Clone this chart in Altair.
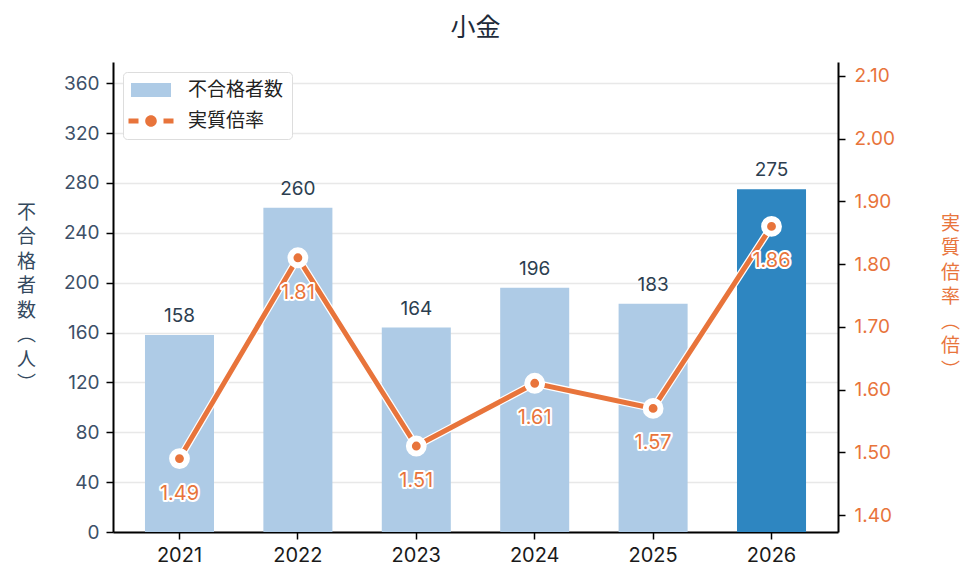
import pandas as pd
import altair as alt

# data
years = ['2021', '2022', '2023', '2024', '2025', '2026']
failures = [158, 260, 164, 196, 183, 275]
ratios = [1.49, 1.81, 1.51, 1.61, 1.57, 1.86]
series = ['不合格者数', '実質倍率']
left_ticks = [0, 40, 80, 120, 160, 200, 240, 280, 320, 360]
right_ticks = [1.40, 1.50, 1.60, 1.70, 1.80, 1.90, 2.00, 2.10]

df = pd.DataFrame({'year': years, 'failures': failures, 'ratio': ratios})
legend_df = pd.DataFrame({'series': series})

LIGHT = '#aecbe6'
DARK = '#2e86c1'
ORANGE = '#e8743b'
NUM_FONT = "Inter, 'Noto Sans CJK JP', sans-serif"
JP_FONT = "'Noto Sans CJK JP', sans-serif"

# legend symbols as custom paths (bar box / dashed line with dot)
RECT = 'M-2,-0.7H2V0.7H-2Z'
DOTLINE = ('M-2.25,-0.25H-1.25V0.25H-2.25Z M1.25,-0.25H2.25V0.25H1.25Z '
           'M0.58,0A0.58,0.58,0,1,1,-0.58,0A0.58,0.58,0,1,1,0.58,0Z')

base = alt.Chart(df).encode(
    x=alt.X('year:N', title=None,
            scale=alt.Scale(paddingInner=0.417, paddingOuter=0.27),
            axis=alt.Axis(labelAngle=0, labelFont=NUM_FONT, labelFontSize=20,
                          labelColor='#1a1a1a', labelPadding=6, tickSize=7,
                          tickColor='black', tickWidth=1.5, domainColor='black',
                          domainWidth=2, grid=False))
)

left_axis = alt.Axis(
    values=left_ticks, title=list('不合格者数︵人︶'), titleAngle=0,
    titleAlign='center', titleBaseline='top', titleX=-87, titleY=141,
    titleLineHeight=24.5, titleFont=JP_FONT, titleFontSize=19,
    titleFontWeight='normal', titleColor='#34495e',
    labelFont=NUM_FONT, labelFontSize=19, labelColor='#3d5068', labelPadding=7,
    tickSize=7, tickColor='black', tickWidth=1.5, domainColor='black',
    domainWidth=2, grid=True, gridColor='#e8e8e8', gridWidth=1.5)

right_axis = alt.Axis(
    orient='right', values=right_ticks, format='.2f', title=list('実質倍率︵倍︶'),
    titleAngle=0, titleAlign='center', titleBaseline='top', titleX=112, titleY=152,
    titleLineHeight=24.5, titleFont=JP_FONT, titleFontSize=19,
    titleFontWeight='normal', titleColor=ORANGE,
    labelFont=NUM_FONT, labelFontSize=19, labelColor=ORANGE, labelPadding=9,
    tickSize=7, tickColor='black', tickWidth=1.5, domainColor='black',
    domainWidth=2, grid=False)

bars = base.mark_bar().encode(
    y=alt.Y('failures:Q', scale=alt.Scale(domain=[0, 377], nice=False), axis=left_axis),
    color=alt.condition(alt.datum.year == '2026', alt.value(DARK), alt.value(LIGHT)),
)
bar_text = base.mark_text(baseline='alphabetic', dy=-13, fontSize=19,
                          font=NUM_FONT, color='#2c3e50').encode(
    y='failures:Q', text='failures:Q')

left = alt.layer(bars, bar_text)

y_r = alt.Y('ratio:Q', scale=alt.Scale(domain=[1.373, 2.122], nice=False, zero=False),
            axis=right_axis)
line_halo = base.mark_line(color='white', strokeWidth=7.5).encode(y=y_r)
line = base.mark_line(color=ORANGE, strokeWidth=5).encode(y='ratio:Q')
pts = base.mark_point(filled=True, fill=ORANGE, stroke='white', strokeWidth=6,
                      size=220, opacity=1).encode(y='ratio:Q')
lab_halo = base.mark_text(dy=35, fontSize=20, font=NUM_FONT, color='white',
                          stroke='white', strokeWidth=4, strokeJoin='round').encode(
    y='ratio:Q', text=alt.Text('ratio:Q', format='.2f'))
lab = base.mark_text(dy=35, fontSize=20, font=NUM_FONT, color=ORANGE).encode(
    y='ratio:Q', text=alt.Text('ratio:Q', format='.2f'))

right = alt.layer(line_halo, line, pts, lab_halo, lab)

leg = alt.Legend(title=None, orient='top-left', offset=10, padding=8,
                 symbolOffset=10, labelOffset=27, rowPadding=11, symbolSize=400,
                 symbolOpacity=1, symbolStrokeWidth=0, labelFont=JP_FONT,
                 labelFontSize=19, labelColor='#222222', strokeColor='#dddddd',
                 fillColor='white', cornerRadius=4)
legend_layer = alt.Chart(legend_df).mark_point(filled=True, opacity=0, size=400).encode(
    color=alt.Color('series:N', scale=alt.Scale(domain=series, range=[LIGHT, ORANGE]),
                    legend=leg),
    shape=alt.Shape('series:N', scale=alt.Scale(domain=series, range=[RECT, DOTLINE]),
                    legend=leg),
)

chart = alt.layer(left, right, legend_layer).resolve_scale(
    y='independent'
).properties(
    width=725, height=470,
    padding={'left': 105, 'top': 54, 'right': 129, 'bottom': 44},
    autosize=alt.AutoSizeParams(type='none'),
    title=alt.TitleParams('小金', font=JP_FONT, fontSize=25, fontWeight='normal',
                          color='#1e2b3a', offset=21),
).configure_view(stroke=None)

chart.save("out.html", embed_options={"renderer": "svg", "actions": False})
